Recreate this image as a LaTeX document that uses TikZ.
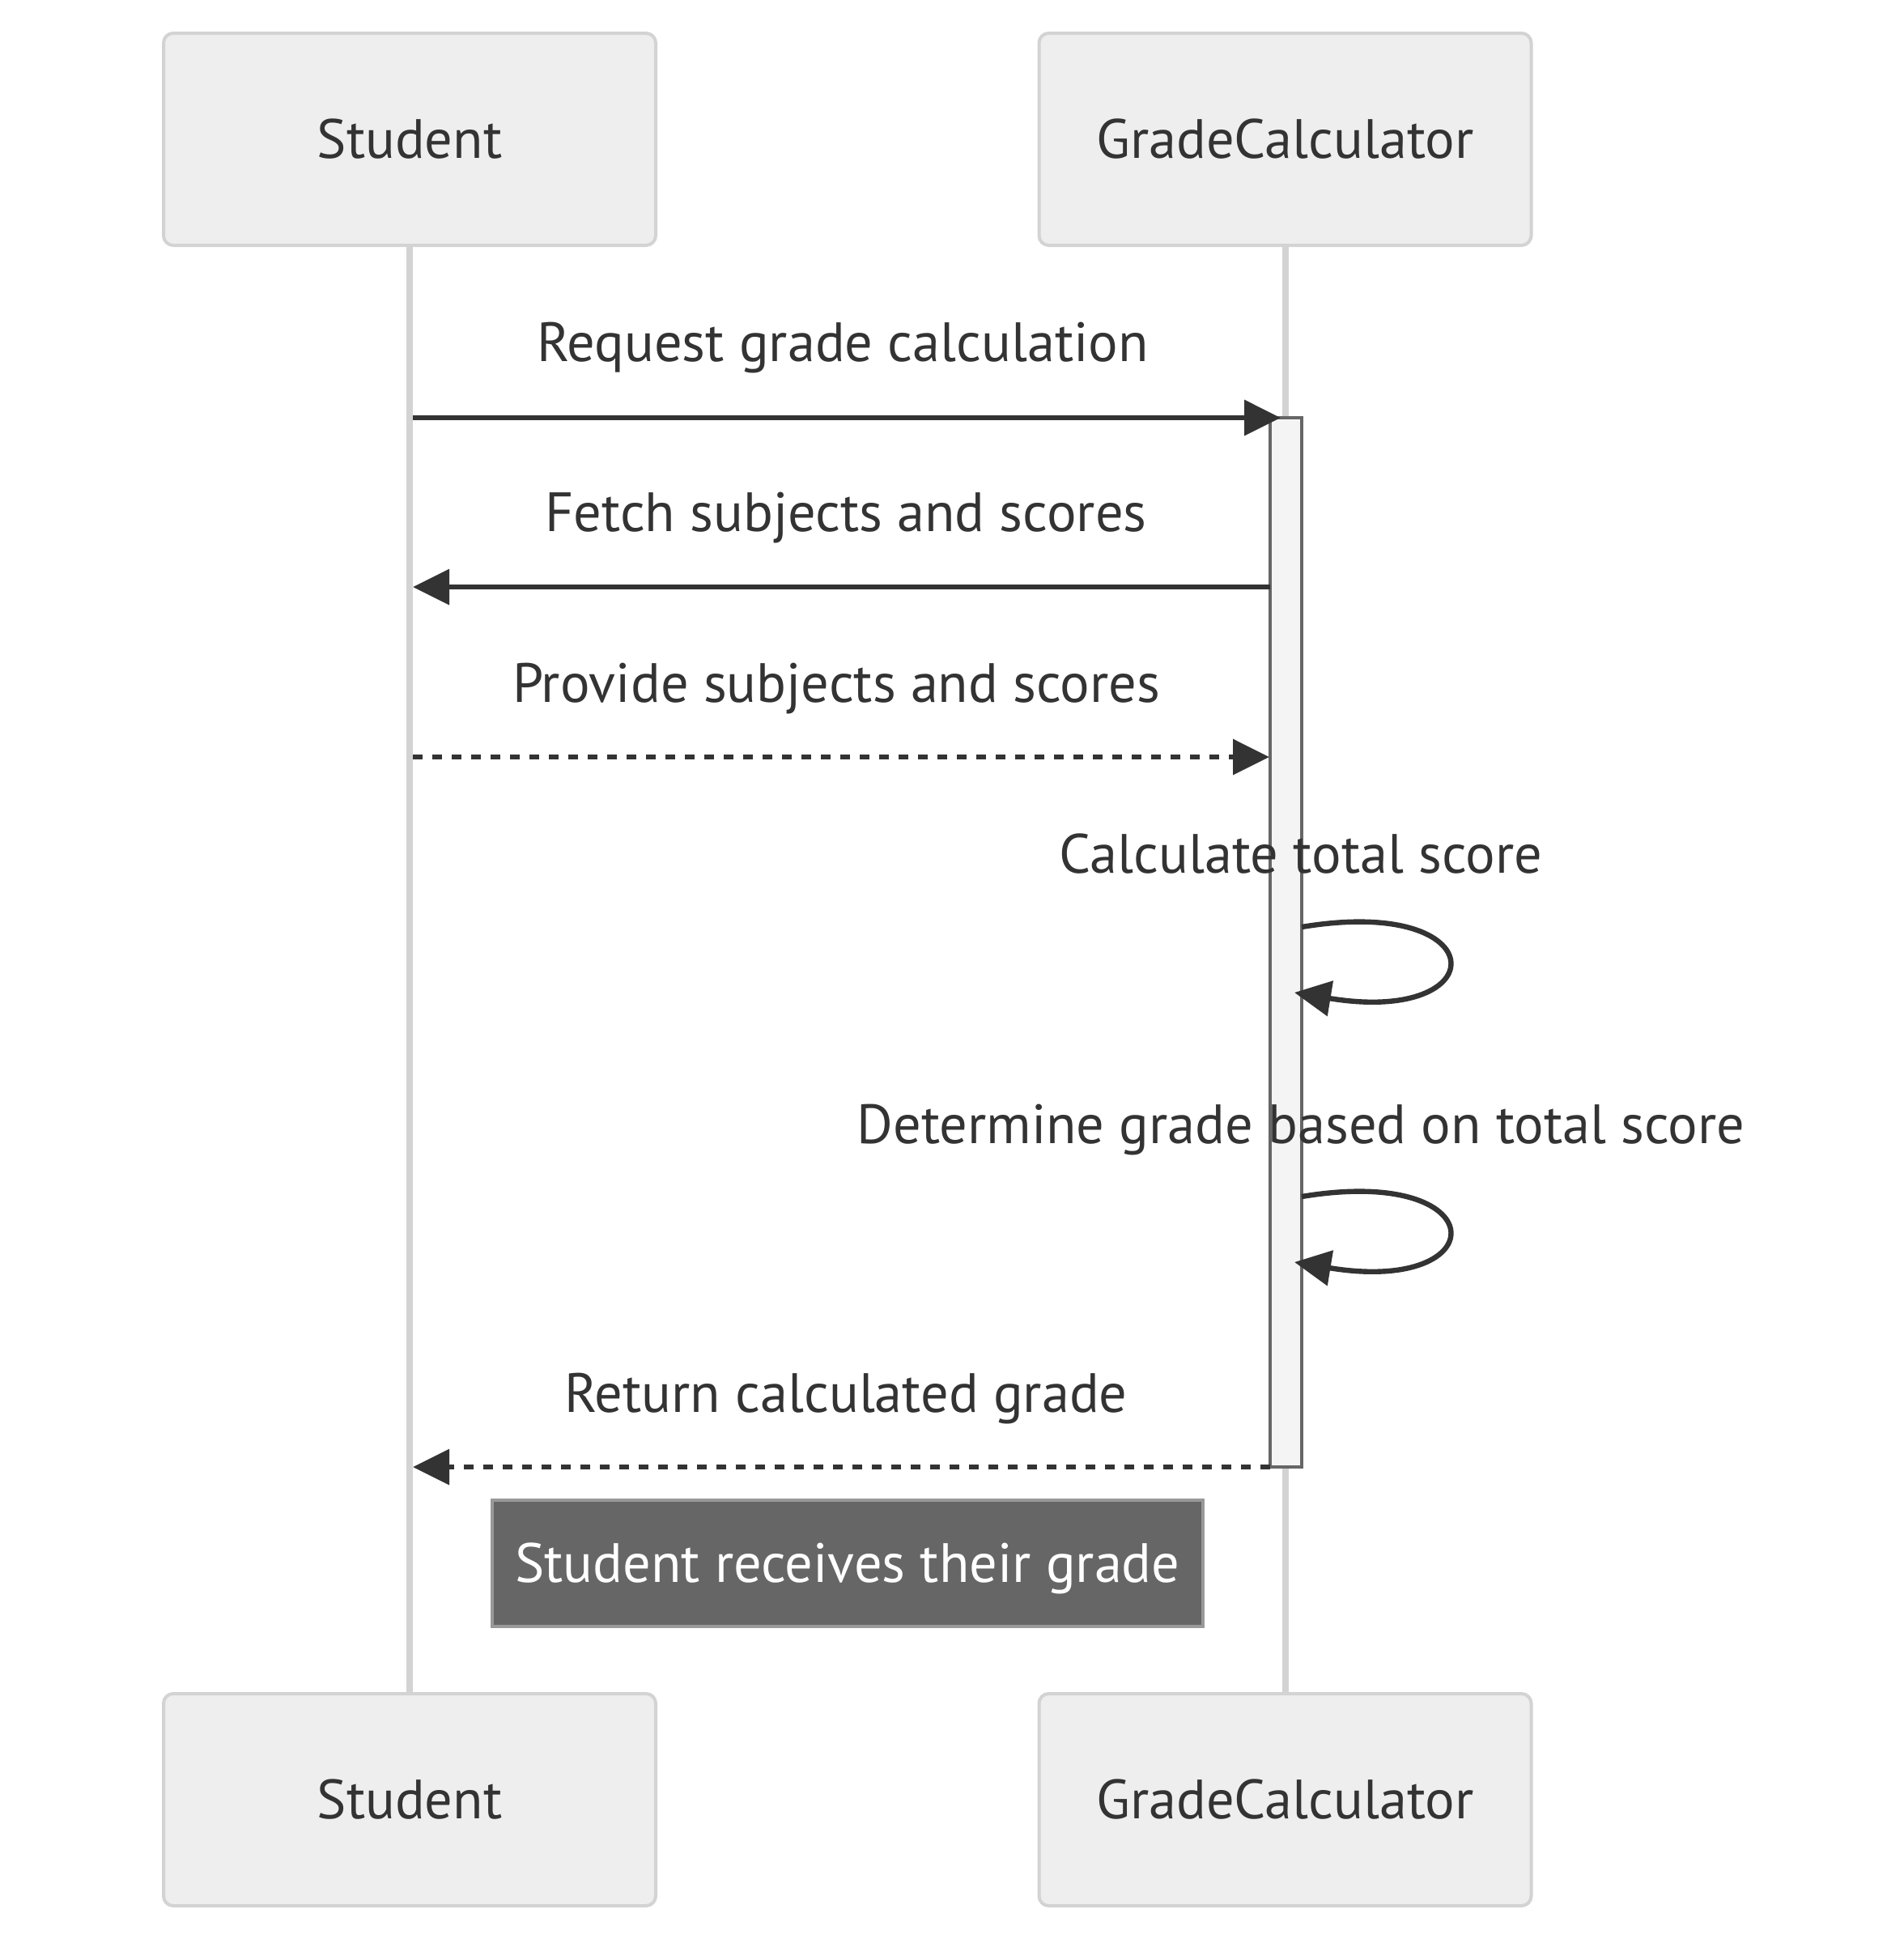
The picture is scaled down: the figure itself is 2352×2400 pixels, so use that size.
\documentclass[tikz,border=0pt]{standalone}
\usepackage{fontspec}
\setmainfont{PT Sans}
\usetikzlibrary{arrows.meta}
\definecolor{ink}{HTML}{333333}
\definecolor{actfill}{HTML}{EEEEEE}
\definecolor{actline}{HTML}{D3D3D3}
\definecolor{barfill}{HTML}{F4F4F4}
\definecolor{barline}{HTML}{666666}
\definecolor{notefill}{HTML}{666666}
\definecolor{noteline}{HTML}{999999}
\newcommand{\labelfont}{\fontsize{17.1}{20}\selectfont}

\begin{document}
\begin{tikzpicture}[x=0.25pt,y=-0.25pt,
		actor/.style={draw=actline,fill=actfill,line width=1pt,rounded corners=3pt,
			minimum width=152pt,minimum height=65.5pt,text=ink,font=\labelfont},
		lifeline/.style={draw=actline,line width=2pt},
		activation/.style={draw=barline,fill=barfill,line width=1pt,
			minimum width=9.75pt,minimum height=324pt,inner sep=0pt},
		msg/.style={draw=ink,line width=1.6pt,-{Triangle[length=11.25pt,width=10.75pt]}},
		reply/.style={msg,dash pattern=on 3pt off 3pt},
		msglabel/.style={anchor=base,text=ink,font=\labelfont,inner sep=0pt},
		note/.style={draw=noteline,fill=notefill,line width=1pt,text=white,text depth=0.5pt,
			minimum width=219.5pt,minimum height=39pt,font=\labelfont}]
		\useasboundingbox (0,0) rectangle (2352,2400);
		% participants
		\node[actor] (stuTop) at (506,172) {Student};
		\node[actor] (gcTop) at (1587.5,172) {GradeCalculator};
		\node[actor] (stuBot) at (506,2223) {Student};
		\node[actor] (gcBot) at (1587.5,2223) {GradeCalculator};
		\draw[lifeline] (stuTop) -- (stuBot);
		\draw[lifeline] (gcTop) -- (gcBot);
		\node[activation] (act) at (1588.5,1164) {};
		% message ends
		\coordinate (s1) at (510,516);   \coordinate (g1) at (1582,516);
		\coordinate (g2) at (1569,725);  \coordinate (s2) at (510,725);
		\coordinate (s3) at (510,935);   \coordinate (g3) at (1568,935);
		\coordinate (g6) at (1569,1812); \coordinate (s6) at (510,1812);
		\coordinate (c1a) at (1608,1145); \coordinate (c1b) at (1599,1226);
		\coordinate (c2a) at (1608,1478); \coordinate (c2b) at (1599,1559);
		% messages
		\draw[msg] (s1) -- (g1);
		\draw[msg] (g2) -- (s2);
		\draw[reply] (s3) -- (g3);
		\draw[msg] (c1a) .. controls (1848,1105) and (1848,1267) .. (c1b);
		\draw[msg] (c2a) .. controls (1848,1438) and (1848,1600) .. (c2b);
		\draw[reply] (g6) -- (s6);
		% labels
		\node[msglabel] (l1) at (1041,446) {Request grade calculation};
		\node[msglabel] (l2) at (1045,656) {Fetch subjects and scores};
		\node[msglabel] (l3) at (1033,867) {Provide subjects and scores};
		\node[msglabel] (l4) at (1607,1078) {Calculate total score};
		\node[msglabel] (l5) at (1607,1412) {Determine grade based on total score};
		\node[msglabel] (l6) at (1045,1744) {Return calculated grade};
		\node[note] (nt) at (1047,1931) {Student receives their grade};
	\end{tikzpicture}
\end{document}
